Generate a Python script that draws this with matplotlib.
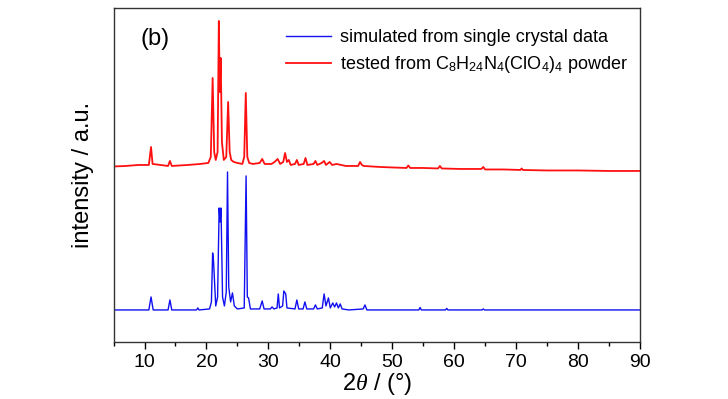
import numpy as np
import matplotlib
matplotlib.use("Agg")
import matplotlib.pyplot as plt
from matplotlib.ticker import MultipleLocator

plt.rcParams['font.family'] = ['Liberation Sans', 'DejaVu Sans']
plt.rcParams['mathtext.fontset'] = 'custom'
plt.rcParams['mathtext.rm'] = 'Liberation Sans'
plt.rcParams['mathtext.it'] = 'Liberation Serif:italic'

# simulated pattern (2theta, intensity a.u., already offset)
sim_2theta = [5.0, 10.7, 11.05, 11.4, 13.8, 14.1, 14.4, 18.4, 18.6, 18.8,
              20.5, 20.8, 21.0, 21.15, 21.5, 21.8, 22.05, 22.2, 22.35, 22.6,
              22.9, 23.2, 23.4, 23.6, 23.9, 24.2, 24.5, 25.0, 26.1, 26.4,
              26.6, 26.8, 27.1, 28.6, 29.0, 29.3, 30.3, 30.6, 30.9, 31.4,
              31.6, 31.8, 32.3, 32.5, 32.8, 33.0, 34.3, 34.6, 34.9, 35.6,
              35.9, 36.2, 37.3, 37.6, 37.9, 38.7, 39.0, 39.3, 39.7, 40.0,
              40.4, 40.7, 41.0, 41.3, 41.6, 41.9, 43.0, 45.3, 45.6, 45.9,
              48.0, 54.3, 54.5, 54.7, 58.6, 58.8, 59.0, 64.5, 64.7, 64.9, 90.0]
sim_int = [32, 32, 45, 32, 32, 42, 32, 32, 34, 32,
           33, 40, 89, 80, 36, 45, 134, 120, 134, 45,
           36, 50, 170, 55, 40, 49, 36, 33, 34, 166,
           45, 44, 33, 33, 41, 33, 33, 35, 33, 34,
           48, 34, 36, 51, 48, 34, 33, 42, 33, 33,
           40, 33, 33, 37, 33, 34, 48, 36, 44, 34,
           39, 35, 39, 34, 38, 33, 32, 33, 37, 32,
           32, 32, 34.5, 32, 32, 33.5, 32, 32, 33, 32, 32]

# measured powder pattern
xrd_2theta = [5.0, 7.0, 9.0, 10.7, 11.05, 11.3, 13.8, 14.1, 14.4, 17.0,
              19.0, 20.3, 20.7, 21.0, 21.25, 21.5, 21.8, 22.0, 22.15, 22.3,
              22.5, 22.8, 23.2, 23.5, 23.75, 24.0, 24.4, 25.0, 25.8, 26.1,
              26.35, 26.6, 26.9, 27.5, 28.6, 29.0, 29.4, 30.5, 31.0, 31.5,
              31.9, 32.4, 32.7, 33.0, 33.3, 33.6, 34.3, 34.6, 34.9, 35.7,
              36.0, 36.3, 37.3, 37.6, 37.9, 38.6, 39.0, 39.3, 39.9, 40.3,
              41.0, 42.5, 44.5, 44.8, 45.1, 45.4, 48.0, 50.0, 52.3, 52.6,
              52.9, 55.0, 57.4, 57.7, 58.0, 61.0, 64.4, 64.7, 65.0, 68.0,
              70.7, 70.9, 71.1, 75.0, 80.0, 85.0, 90.0]
xrd_int = [175.5, 176, 177, 177, 195, 178, 176, 181, 176, 177,
           178, 179, 185, 264, 190, 182, 190, 321, 250, 284,
           200, 182, 185, 240, 190, 182, 180, 179, 178, 185,
           249, 185, 179, 178, 179, 183, 178, 178, 180, 183,
           178, 180, 189, 180, 182, 177, 178, 182, 177, 178,
           184, 177, 178, 181, 177, 179, 181, 177, 180, 177,
           178, 176, 176, 180, 177, 176, 175, 174.5, 174, 176.5,
           174, 174, 173.5, 176, 173.5, 173, 173, 175, 172.5, 172.5,
           172, 173.5, 172, 171.5, 171.5, 171, 171]

fig = plt.figure(figsize=(7.28, 3.99), dpi=100)
ax = fig.add_axes([0.156, 0.143, 0.723, 0.837])

ax.plot(sim_2theta, sim_int, color='#1010f0', lw=1.0,
        label='simulated from single crystal data')
ax.plot(xrd_2theta, xrd_int, color='#ff1010', lw=1.3,
        label=r'tested from C$_8$H$_{24}$N$_4$(ClO$_4$)$_4$ powder')

ax.set_xlim(5, 90)
ax.set_ylim(0, 334)
ax.xaxis.set_major_locator(MultipleLocator(10))
ax.xaxis.set_minor_locator(MultipleLocator(5))
ax.tick_params(axis='x', which='major', direction='out', length=5, width=1,
               labelsize=14, pad=4)
ax.tick_params(axis='x', which='minor', direction='out', length=3, width=1)
ax.set_yticks([])
for s in ax.spines.values():
    s.set_color('#333333')
    s.set_linewidth(1.0)

ax.set_xlabel(r'2$\theta$ / (°)', fontsize=17, labelpad=0)
ax.set_ylabel('intensity / a.u.', fontsize=17, labelpad=14)

ax.text(0.052, 0.89, '(b)', transform=ax.transAxes, fontsize=17)

ax.legend(loc='upper left', bbox_to_anchor=(0.296, 0.985), frameon=False,
          fontsize=13, handlelength=2.5, handletextpad=0.5, labelspacing=0.45)

fig.savefig('out.png', dpi=100)
